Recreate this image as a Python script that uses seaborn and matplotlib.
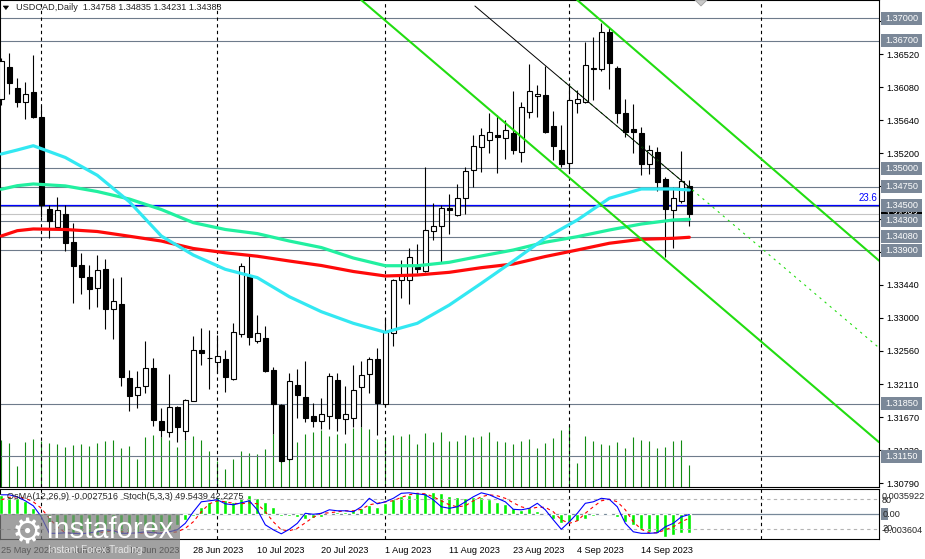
import numpy as np
import pandas as pd
import matplotlib
matplotlib.use("Agg")
import matplotlib.pyplot as plt
import matplotlib.transforms as mtrans
from matplotlib.patches import Rectangle, Polygon
import seaborn as sns

# ---------------- data ----------------
symbol = "USDCAD"
period = "Daily"
dates = pd.bdate_range("2023-05-25", "2023-09-22")

open_ = [1.35919, 1.36355, 1.36066, 1.35879, 1.36017, 1.35678, 1.34454, 1.34209, 1.34387, 1.34009,
         1.33706, 1.33541, 1.33394, 1.33652, 1.33122, 1.33185, 1.32192, 1.31965, 1.32085, 1.32326,
         1.31618, 1.31480, 1.31805, 1.31484, 1.31894, 1.32570, 1.32468, 1.32406, 1.32450, 1.32179,
         1.32784, 1.33559, 1.32695, 1.32731, 1.32303, 1.31836, 1.31110, 1.32103, 1.31938, 1.31689,
         1.31626, 1.31693, 1.32170, 1.31644, 1.31658, 1.32072, 1.32245, 1.32446, 1.31845, 1.32802,
         1.33505, 1.33505, 1.33679, 1.33626, 1.34160, 1.34227, 1.34463, 1.34374, 1.34596, 1.34970,
         1.35286, 1.35375, 1.35442, 1.35398, 1.35464, 1.35211, 1.35745, 1.35959, 1.35976, 1.35562,
         1.35242, 1.35064, 1.35865, 1.35887, 1.36328, 1.36328, 1.36813, 1.36332, 1.35731, 1.35522,
         1.35464, 1.35050, 1.35211, 1.34854, 1.34440, 1.34565, 1.34758]
close_ = [1.36435, 1.36141, 1.35887, 1.35990, 1.35687, 1.34507, 1.34294, 1.34436, 1.34004, 1.33697,
          1.33550, 1.33381, 1.33639, 1.33122, 1.33229, 1.32205, 1.31960, 1.32081, 1.32326, 1.31635,
          1.31506, 1.31805, 1.31538, 1.31903, 1.32570, 1.32535, 1.32459, 1.32490, 1.32214, 1.32806,
          1.33692, 1.32748, 1.32793, 1.32294, 1.31849, 1.31088, 1.32161, 1.31974, 1.31667, 1.31626,
          1.31716, 1.32223, 1.31667, 1.31716, 1.32032, 1.32232, 1.32446, 1.31858, 1.32815, 1.33505,
          1.33572, 1.33808, 1.33657, 1.34173, 1.34222, 1.34463, 1.34436, 1.34596, 1.34957, 1.35295,
          1.35438, 1.35478, 1.35420, 1.35509, 1.35242, 1.35812, 1.36030, 1.35990, 1.35487, 1.35295,
          1.35055, 1.35910, 1.35918, 1.36377, 1.36337, 1.36813, 1.36399, 1.35731, 1.35478, 1.35487,
          1.35050, 1.35237, 1.34819, 1.34449, 1.34596, 1.34823, 1.34383]
high_ = [1.36466, 1.36533, 1.36199, 1.36155, 1.36511, 1.35834, 1.34507, 1.34614, 1.34507, 1.34262,
         1.33862, 1.33706, 1.33839, 1.33790, 1.33537, 1.33541, 1.32303, 1.32290, 1.32691, 1.32459,
         1.31791, 1.32250, 1.31820, 1.31911, 1.32757, 1.32860, 1.32838, 1.32766, 1.32570, 1.32927,
         1.33728, 1.33839, 1.33038, 1.32891, 1.32339, 1.31849, 1.32259, 1.32312, 1.32423, 1.31858,
         1.31934, 1.32268, 1.32268, 1.32090, 1.32370, 1.32423, 1.32481, 1.32602, 1.33002, 1.33514,
         1.33773, 1.33928, 1.33986, 1.35019, 1.34538, 1.34507, 1.34654, 1.34788, 1.35019, 1.35442,
         1.35531, 1.35732, 1.35709, 1.35643, 1.36034, 1.35887, 1.36390, 1.36110, 1.36364, 1.35767,
         1.35576, 1.36132, 1.36043, 1.36689, 1.36756, 1.36943, 1.36867, 1.36364, 1.35923, 1.35856,
         1.35545, 1.35309, 1.35286, 1.34886, 1.34752, 1.35224, 1.34835]
low_ = [1.35843, 1.35990, 1.35821, 1.35660, 1.35674, 1.34342, 1.34062, 1.34196, 1.33893, 1.33203,
        1.33318, 1.33122, 1.33140, 1.32846, 1.32713, 1.32090, 1.31760, 1.31791, 1.31992, 1.31555,
        1.31404, 1.31413, 1.31346, 1.31368, 1.31885, 1.32370, 1.32050, 1.32259, 1.32014, 1.32165,
        1.32740, 1.32637, 1.32668, 1.32281, 1.31448, 1.31070, 1.31101, 1.31658, 1.31604, 1.31546,
        1.31515, 1.31511, 1.31489, 1.31448, 1.31546, 1.31546, 1.31992, 1.31435, 1.31814, 1.32628,
        1.33269, 1.33180, 1.33595, 1.33608, 1.34040, 1.33741, 1.34115, 1.34365, 1.34387, 1.34752,
        1.34952, 1.35197, 1.34939, 1.35117, 1.35184, 1.35086, 1.35674, 1.35687, 1.35473, 1.35108,
        1.35019, 1.34930, 1.35740, 1.35865, 1.35910, 1.36301, 1.36057, 1.35598, 1.35420, 1.35197,
        1.34908, 1.34921, 1.34699, 1.33817, 1.33937, 1.34529, 1.34231]
tick_volume = [47, 44, 21, 45, 48, 46, 44, 43, 40, 42, 43, 41, 44, 46, 47, 39, 41, 28, 50, 52,
               50, 47, 40, 47, 51, 47, 36, 26, 18, 28, 36, 34, 33, 38, 53, 51, 49, 45, 53, 55,
               57, 51, 53, 44, 59, 60, 58, 48, 50, 52, 51, 53, 43, 54, 45, 55, 46, 46, 52, 50,
               51, 55, 46, 45, 43, 46, 48, 39, 44, 49, 57, 61, 24, 51, 46, 43, 42, 45, 39, 50,
               47, 46, 39, 40, 46, 47, 22]

ma_bars = [0, 2, 4, 8, 12, 16, 20, 24, 28, 32, 36, 40, 44, 48, 52, 56, 60, 64, 68, 72, 76, 80, 84, 86]
ma_cyan = [1.35188, 1.35242, 1.35299, 1.35142, 1.34904, 1.34551, 1.34093, 1.33839, 1.33648, 1.33537,
           1.33282, 1.33082, 1.32927, 1.32807, 1.32927, 1.33171, 1.33461, 1.33759, 1.34066, 1.34307,
           1.34597, 1.34721, 1.34721, 1.34708]
ma_green = [1.34717, 1.34765, 1.34788, 1.34762, 1.34687, 1.34587, 1.34447, 1.34271, 1.34180, 1.34125,
            1.34026, 1.33939, 1.33799, 1.33696, 1.33696, 1.33742, 1.33826, 1.33906, 1.34010, 1.34084,
            1.34173, 1.34253, 1.34307, 1.34316]
ma_red = [1.34093, 1.34164, 1.34187, 1.34180, 1.34153, 1.34090, 1.34026, 1.33926, 1.33869, 1.33823,
          1.33759, 1.33699, 1.33619, 1.33559, 1.33572, 1.33608, 1.33670, 1.33719, 1.33819, 1.33906,
          1.33996, 1.34049, 1.34062, 1.34076]

osma = [0.00278, 0.00254, 0.00230, 0.00197, 0.00086, -0.00030, -0.00120, -0.00190, -0.00240, -0.00270,
        -0.00290, -0.00300, -0.00300, -0.00290, -0.00280, -0.00280, -0.00280, -0.00270, -0.00260, -0.00260,
        -0.00240, -0.00210, -0.00160, -0.00082, -0.00020, 0.00110, 0.00182, 0.00254, 0.00206, 0.00182,
        0.00230, 0.00278, 0.00230, 0.00182, 0.00110, -0.00019, -0.00019, -0.00034, -0.00067, -0.00058,
        -0.00043, 0.00014, 0.00029, 0.00038, 0.00062, 0.00086, 0.00134, 0.00110, 0.00168, 0.00216,
        0.00264, 0.00278, 0.00302, 0.00312, 0.00326, 0.00302, 0.00269, 0.00254, 0.00230, 0.00254,
        0.00245, 0.00216, 0.00182, 0.00149, 0.00086, 0.00062, 0.00086, 0.00048, 0.00005, -0.00072,
        -0.00120, -0.00106, -0.00091, -0.00067, -0.00024, 0.00024, 0.00014, -0.00043, -0.00106, -0.00154,
        -0.00216, -0.00250, -0.00274, -0.00322, -0.00298, -0.00274, -0.0027516]
stoch_main = [89, 89, 85, 77, 67, 45, 12, 12, 13, 12, 11, 13, 15, 19, 17, 12, 12, 13, 15, 13,
              12, 15, 19, 32, 55, 75, 77, 79, 71, 69, 73, 77, 59, 29, 19, 11, 20, 32, 52, 50,
              52, 59, 57, 57, 55, 65, 82, 71, 75, 82, 92, 93, 91, 89, 79, 65, 62, 65, 75, 85,
              93, 89, 82, 75, 60, 59, 62, 72, 59, 39, 20, 35, 52, 72, 75, 82, 80, 65, 32, 15,
              12, 12, 13, 25, 32, 45, 49.5439]
stoch_signal = [79, 84, 85, 82, 75, 62, 42, 25, 13, 12, 12, 12, 13, 15, 17, 15, 13, 12, 13, 14,
                13, 13, 15, 22, 35, 55, 71, 77, 75, 72, 71, 73, 71, 55, 35, 19, 17, 22, 33, 44,
                52, 53, 55, 57, 57, 60, 69, 72, 75, 77, 84, 89, 92, 91, 85, 77, 69, 65, 67, 77,
                85, 89, 87, 82, 73, 65, 61, 64, 64, 55, 39, 32, 37, 52, 65, 77, 80, 75, 59, 35,
                20, 13, 13, 19, 25, 35, 42.2275]
osma_range = (-0.003604, 0.0035922)
stoch_levels = [80, 20]

levels = [1.37000, 1.36700, 1.35000, 1.34750, 1.34500, 1.34300, 1.34080, 1.33900, 1.31850, 1.31150]
fib_level = 1.34511
fib_label = "23.6"
price_ticks = [1.36960, 1.36520, 1.36080, 1.35640, 1.35200, 1.34760, 1.34320, 1.33880,
               1.33440, 1.33000, 1.32560, 1.32110, 1.31670, 1.31230, 1.30790]
date_label_days = ["2023-05-25", "2023-06-06", "2023-06-16", "2023-06-28", "2023-07-10", "2023-07-20",
                   "2023-08-01", "2023-08-11", "2023-08-23", "2023-09-04", "2023-09-14"]
separator_bars = [5, 27, 48, 71, 95]
channel_upper = [(75, 1.36967), (105, 1.34199)]
channel_lower = [(50, 1.36788), (100, 1.32225)]
trend_black = [(59.2, 1.37165), (86.3, 1.34717)]
trend_dotted = [(69.84, 1.36205), (109.71, 1.32600)]

# ---------------- style ----------------
sns.set_style("white")
plt.rcParams["font.family"] = ["Liberation Sans", "DejaVu Sans"]
FS = 6.6
W, H = 925, 559
ID = mtrans.IdentityTransform()

fig = plt.figure(figsize=(W / 100, H / 100), dpi=100)
fig.patch.set_facecolor("white")


def frac_rect(x0, y0, x1, y1):
    return [x0 / W, 1 - y1 / H, (x1 - x0) / W, (y1 - y0) / H]


ax = fig.add_axes(frac_rect(0, 0, 879, 487))
axo = fig.add_axes(frac_rect(0, 489.3, 879, 539.3))
axk = axo.twinx()

XLIM = (-0.1625, 109.71)
PLIM = (1.307404, 1.372453)

n = len(open_)
idx = np.arange(n)
o = np.array(open_)
c = np.array(close_)
hi = np.array(high_)
lo = np.array(low_)
up = c > o

# levels
for lv in levels:
    ax.axhline(lv, color="#6e7b8b", lw=0.8, zorder=2)
ax.axhline(c[-1], color="#c4c4c4", lw=0.8, zorder=2)
ax.axhline(fib_level, color="#0000ff", lw=0.9, zorder=2)

# separators
for s in separator_bars:
    ax.axvline(s, color="black", lw=0.8, ls=(0, (3, 3)), zorder=2)
    axo.axvline(s, color="black", lw=0.8, ls=(0, (3, 3)), zorder=2)

# volumes
vtrans = mtrans.blended_transform_factory(ax.transData, ax.transAxes)
ax.vlines(idx, 0, np.array(tick_volume) / 487.0, transform=vtrans, color="#128a12", lw=0.8, zorder=1)

# candles
ax.vlines(idx, lo, hi, color="black", lw=0.8, zorder=3)
body_lo = np.minimum(o, c)
body_h = np.maximum(np.abs(c - o), 0.00003)
ax.bar(idx, body_h, bottom=body_lo, width=0.62,
       color=["white" if u else "black" for u in up], edgecolor="black", linewidth=0.8, zorder=4)

# moving averages
ma_df = pd.DataFrame({"bar": ma_bars, "cyan": ma_cyan, "green": ma_green, "red": ma_red})
for col, colr in [("red", "#ff0a0a"), ("green", "#22f0a0"), ("cyan", "#33e8f2")]:
    sns.lineplot(data=ma_df, x="bar", y=col, ax=ax, color=colr, linewidth=2.3,
                 estimator=None, sort=False, zorder=5)

# trend lines
ax.axline(channel_upper[0], channel_upper[1], color="#22dd11", lw=1.5, zorder=6)
ax.axline(channel_lower[0], channel_lower[1], color="#22dd11", lw=1.5, zorder=6)
ax.plot([p[0] for p in trend_dotted], [p[1] for p in trend_dotted], color="#22dd11",
        lw=0.8, ls=(0, (2, 4)), zorder=6)
ax.plot([p[0] for p in trend_black], [p[1] for p in trend_black], color="black", lw=0.7, zorder=6)

ax.set_xlim(*XLIM)
ax.set_ylim(*PLIM)
ax.set_xlabel("")
ax.set_ylabel("")
ax.set_xticks([])
ax.yaxis.tick_right()
ax.set_yticks(price_ticks)
ax.set_yticklabels([f"{t:.5f}" for t in price_ticks])
ax.tick_params(axis="y", length=3, width=0.8, pad=2, labelsize=FS, direction="out", colors="black")
ax.set_ylim(*PLIM)
for sp in ax.spines.values():
    sp.set_color("black")
    sp.set_linewidth(0.8)

# ---------------- indicator window ----------------
axo.bar(idx, osma, width=0.5, color="#00f000", zorder=3)
axo.axhline(0, color="#778899", lw=0.9, zorder=2)
axo.set_ylim(*osma_range)
axk.set_ylim(0, 100)
for lvl in stoch_levels:
    axk.axhline(lvl, color="#b4b4b4", lw=0.8, ls=(0, (3, 3)), zorder=1)
sns.lineplot(x=idx, y=stoch_signal, ax=axk, color="#ff0000", linewidth=0.8, zorder=4)
axk.lines[-1].set_linestyle((0, (3, 3)))
sns.lineplot(x=idx, y=stoch_main, ax=axk, color="#0000ff", linewidth=0.8, zorder=5)
axk.set_ylim(0, 100)
axk.set_yticks([])
axo.set_yticks([])
axk.set_ylabel("")
axo.set_ylabel("")
label_pos = [dates.get_loc(pd.Timestamp(d)) for d in date_label_days]
label_txt = [f"{pd.Timestamp(d).day} {pd.Timestamp(d):%b %Y}" for d in date_label_days]
axo.set_xticks(label_pos)
axo.set_xticklabels(label_txt)
axo.tick_params(axis="x", length=3, width=0.8, pad=1.5, labelsize=FS, direction="out", colors="black")
for t in axo.get_xticklabels():
    t.set_ha("left")
axo.set_xlim(*XLIM)
for sp in axo.spines.values():
    sp.set_color("black")
    sp.set_linewidth(0.8)
for sp in axk.spines.values():
    sp.set_visible(False)


# ---------------- right-side price boxes ----------------
def disp_y(a, v):
    return a.transData.transform((0, v))[1]


def price_box(val, fc, z):
    y = disp_y(ax, val)
    fig.add_artist(Rectangle((881, y - 6.5), 41, 13, transform=ID, facecolor=fc,
                             edgecolor="none", zorder=z, clip_on=False))
    fig.text(901.5, y, f"{val:.5f}", transform=ID, color="white", ha="center", va="center",
             fontsize=FS, zorder=z + 0.5)


price_box(c[-1], "black", 10)
for lv in levels:
    price_box(lv, "#7b8898", 11)

yf = disp_y(ax, fib_level)
fig.text(877, yf + 1.5, fib_label, transform=ID, color="#0000ff", ha="right", va="bottom", fontsize=FS + 0.4)

# indicator right labels
ytop = disp_y(axo, osma_range[1])
ybot = disp_y(axo, osma_range[0])
fig.text(882, ytop - 7, f"{osma_range[1]:.7f}", transform=ID, fontsize=FS, va="center", ha="left")
fig.text(882, disp_y(axk, 80) - 1, "80", transform=ID, fontsize=FS, va="center", ha="left")
fig.text(882, disp_y(axk, 20) + 1, "20", transform=ID, fontsize=FS, va="center", ha="left")
fig.text(882, ybot + 9, f"{osma_range[0]:.6f}", transform=ID, fontsize=FS, va="center", ha="left")
y0 = disp_y(axo, 0)
fig.add_artist(Rectangle((881, y0 - 6), 7, 12, transform=ID, facecolor="#7b8898", edgecolor="none", zorder=10))
fig.text(882.5, y0, "0.00", transform=ID, fontsize=FS, va="center", ha="left", zorder=11)

# titles
fig.add_artist(Polygon([[3.3, H - 6], [8.5, H - 6], [5.9, H - 9.5]], closed=True, transform=ID,
                       facecolor="black", edgecolor="black", lw=0.5))
title = f"{symbol},{period}  {o[-1]:.5f} {hi[-1]:.5f} {lo[-1]:.5f} {c[-1]:.5f}"
fig.text(16, H - 7.5, title, transform=ID, fontsize=FS, va="center", ha="left")
sub_title = (f"OsMA(12,26,9) {osma[-1]:.7f}  Stoch(5,3,3) "
             f"{stoch_main[-1]:.4f} {stoch_signal[-1]:.4f}")
fig.text(7, H - 496.7, sub_title, transform=ID, fontsize=FS, va="center", ha="left", zorder=3)

# small grey arrow object cut by the top edge
fig.add_artist(Polygon([[695, H], [707, H], [701, H - 6]], closed=True, transform=ID,
                       facecolor="#c8c8c8", edgecolor="#a0a0a0", lw=0.6, zorder=8))

# watermark
fig.add_artist(Rectangle((0, 0), 180, H - 514.3, transform=ID, facecolor="#7d7d7d", alpha=0.72,
                         edgecolor="none", zorder=30))
fig.text(27, H - 533, "\u2699", transform=ID, fontsize=25, color="white", family="DejaVu Sans",
         ha="center", va="center", zorder=31)
fig.text(47, H - 530, "instaforex", transform=ID, fontsize=21, color="white", ha="left",
         va="center", zorder=31)
fig.text(48, H - 550, "Instant Forex Trading", transform=ID, fontsize=7.2, color="#e6e6e6",
         ha="left", va="center", zorder=31)

fig.savefig("out.png", dpi=100, facecolor="white")
